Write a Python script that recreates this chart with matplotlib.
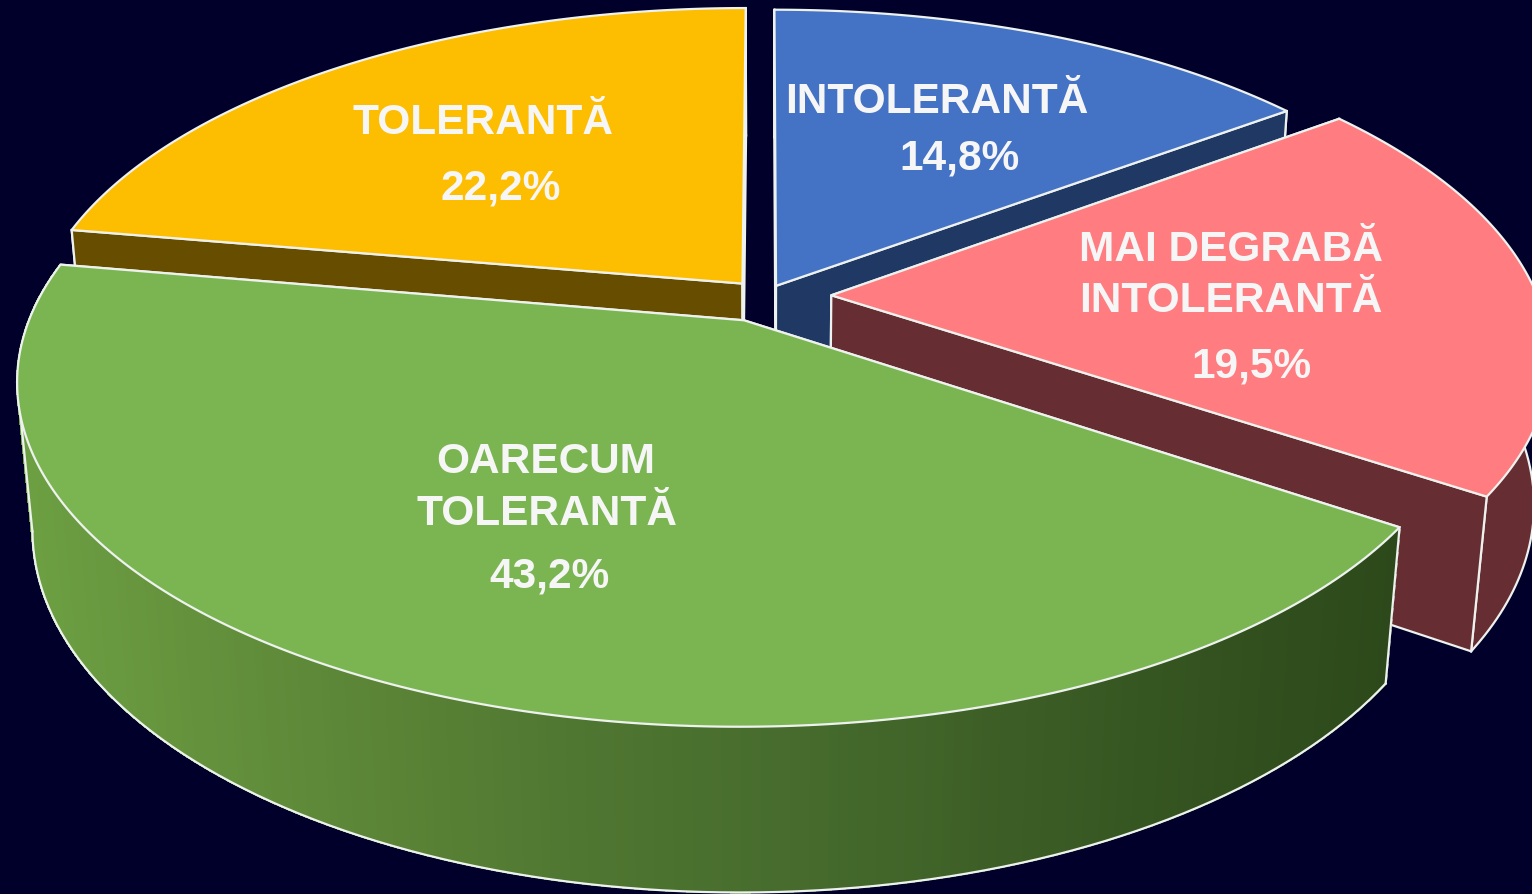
import numpy as np
import matplotlib
matplotlib.use('Agg')
import matplotlib.pyplot as plt
from matplotlib.patches import Polygon
from matplotlib.colors import LinearSegmentedColormap

# order is clockwise from 12 o'clock
categories = ['INTOLERANTĂ', 'MAI DEGRABĂ\nINTOLERANTĂ', 'OARECUM\nTOLERANTĂ', 'TOLERANTĂ']
values = [14.8, 19.5, 43.2, 22.2]
percent_labels = ['14,8%', '19,5%', '43,2%', '22,2%']

top_colors = ['#4472c4', '#ff7c80', '#7ab552', '#fdbd00']
side_colors = ['#203864', '#662e33', '#4f7a33', '#664d00']
explode = [0.035, 0.094, 0.079, 0.05]

BG = '#00002b'
EDGE = '#eef2ee'

# camera for the tilted disc
CX, CY = 765, 296
RX, RY = 706, 327
TILT = 0.1725
DEPTH = 147
SHRINK = 0.02


def project(x, y, d=0.0):
    w = 1 - TILT * y + SHRINK * d
    return CX + RX * x / w, CY + (RY * y + DEPTH * d) / w


fig = plt.figure(figsize=(15.32, 8.94), dpi=100, facecolor=BG)
ax = fig.add_axes([0, 0, 1, 1])
ax.set_xlim(0, 1532)
ax.set_ylim(894, 0)
ax.axis('off')

green_wall = LinearSegmentedColormap.from_list('g', [(0, '#6ea143'), (0.29, '#5a8336'), (0.43, '#4f7631'),
                                                     (0.58, '#466b2d'), (0.87, '#33521f'), (1, '#2d491b')])

bounds = np.cumsum([0] + values) / sum(values) * 2 * np.pi


def draw_slice(i, base, gradient=False):
    a0, a1 = bounds[i], bounds[i + 1]
    mid = (a0 + a1) / 2
    ox, oy = explode[i] * np.sin(mid), -explode[i] * np.cos(mid)
    t = np.linspace(a0, a1, 240)
    xs = ox + np.sin(t)
    ys = oy - np.cos(t)

    # cut faces go over the rim, except on green where they face away
    face_z = base if gradient else base + 1
    rim_z = base + 1 if gradient else base
    for k in (0, -1):
        p = [project(ox, oy), project(xs[k], ys[k]), project(xs[k], ys[k], 1), project(ox, oy, 1)]
        ax.add_patch(Polygon(p, closed=True, fc=side_colors[i], ec=EDGE, lw=1.6, joinstyle='round', zorder=face_z))

    # rim
    tx, ty = project(xs, ys)
    bx, by = project(xs, ys, 1)
    last = len(t)
    if gradient:
        for j in range(len(t) - 1):
            q = [(tx[j], ty[j]), (tx[j + 1], ty[j + 1]), (bx[j + 1], by[j + 1]), (bx[j], by[j])]
            c = green_wall(np.clip(bx[j] / 1385, 0, 1))
            ax.add_patch(Polygon(q, closed=True, fc=c, ec=c, lw=0.8, antialiased=False, zorder=rim_z))
        # left silhouette between the two ellipses
        i1, i2 = np.argmin(tx), np.argmin(bx)
        ax.add_patch(Polygon([(tx[i1], ty[i1]), (bx[i2], by[i2]), (tx[i2], ty[i2])], closed=True,
                             fc=green_wall(0.0), ec='none', zorder=rim_z))
        ax.plot([tx[i1], bx[i2]], [ty[i1], by[i2]], color=EDGE, lw=1.6, zorder=rim_z + 0.5)
        last = i2 + 1  # rest of the bottom arc is behind the wall
    else:
        q = list(zip(tx, ty)) + list(zip(bx[::-1], by[::-1]))
        ax.add_patch(Polygon(q, closed=True, fc=side_colors[i], ec='none', zorder=rim_z))
    ax.plot(bx[:last], by[:last], color=EDGE, lw=1.6, zorder=rim_z + 0.5)
    ax.plot([tx[0], bx[0]], [ty[0], by[0]], color=EDGE, lw=1.6, zorder=rim_z + 0.5)
    if not gradient:
        ax.plot([tx[-1], bx[-1]], [ty[-1], by[-1]], color=EDGE, lw=1.6, zorder=rim_z + 0.5)

    # top
    ax0, ay0 = project(ox, oy)
    p = [(ax0, ay0)] + list(zip(tx, ty))
    ax.add_patch(Polygon(p, closed=True, fc=top_colors[i], ec=EDGE, lw=1.6, joinstyle='round', zorder=base + 2))


# back slices first, green sits in front
draw_slice(3, 1)
draw_slice(0, 5)
draw_slice(1, 9)
draw_slice(2, 13, gradient=True)

# baselines of each text line
label_pos = [[(937, 113)], [(1231, 261), (1231, 312)], [(546, 473), (547, 525)], [(483, 134)]]
pct_pos = [(960, 170), (1251, 378), (549, 587), (501, 199)]
for i, cat in enumerate(categories):
    for line, (x, y) in zip(cat.split('\n'), label_pos[i]):
        ax.text(x, y, line, ha='center', va='baseline', color='#f6f6f6', fontsize=30.5,
                fontweight='bold', family='Liberation Sans', zorder=30)
    x, y = pct_pos[i]
    ax.text(x, y, percent_labels[i], ha='center', va='baseline', color='#f6f6f6', fontsize=30.5,
            fontweight='bold', family='Liberation Sans', zorder=30)

fig.savefig('out.png', dpi=100, facecolor=BG)
